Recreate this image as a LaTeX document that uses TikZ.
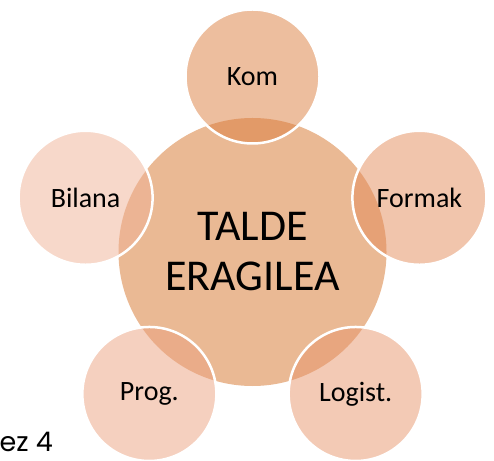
\documentclass[tikz,border=0pt]{standalone}
\usepackage{fontspec}
\setmainfont{Carlito}
\newfontfamily\piedfont{Poppins}
\usepackage{tikz}
\usetikzlibrary{positioning}
\usetikzlibrary{calc}

\definecolor{fondcentre}{RGB}{234,185,148}
\definecolor{couleurkom}{RGB}{219,125,61}
\definecolor{couleurformak}{RGB}{227,139,89}
\definecolor{couleurlogist}{RGB}{231,149,107}
\definecolor{couleurprog}{RGB}{235,161,127}
\definecolor{couleurbilana}{RGB}{239,177,149}

\begin{document}
\begin{tikzpicture}[x=1pt,y=1pt]
% définition des paramètres
\tikzstyle centretalde=[circle,fill=fondcentre,minimum size=268pt,inner sep=0pt,align=center,font=\fontsize{44}{50}\selectfont]
\tikzstyle satellitetalde=[circle,draw=white,line width=2.5pt,fill opacity=0.5,text opacity=1,minimum size=134pt,inner sep=0pt,font=\fontsize{28}{32}\selectfont]
\newcommand{\rayonsat}{175.5} % distance du centre aux satellites

% le cadre
\useasboundingbox (0,0) rectangle (494,460);

% le cercle central
\node[centretalde] (talde) at (252.5,208) {TALDE\\ERAGILEA};

% les satellites
\foreach \angle/\nom/\texte/\couleur in {90/kom/Kom/couleurkom,18/formak/Formak/couleurformak,-54/logist/Logist./couleurlogist,-126/prog/Prog./couleurprog,162/bilana/Bilana/couleurbilana}
    \node[satellitetalde,fill=\couleur] (\nom) at ($(talde.center)+(\angle:\rayonsat)$) {\texte};

% le texte du bas
\node[anchor=base east,inner sep=0pt,font=\piedfont\fontsize{27}{30}\selectfont] (pied) at (53,9) {ez 4};
\end{tikzpicture}
\end{document}
